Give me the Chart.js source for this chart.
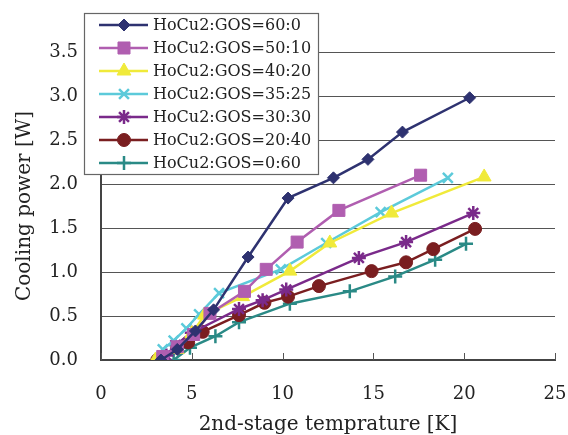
<!DOCTYPE html>
<html>
<head>
<meta charset="utf-8">
<script src="https://cdn.jsdelivr.net/npm/chart.js@4.4.1/dist/chart.umd.min.js"></script>
<style>
  html, body { margin:0; padding:0; background:#fff; }
  #wrap { width:568px; height:435px; }
</style>
</head>
<body>
<div id="wrap"><canvas id="c" width="568" height="435"></canvas></div>
<script>
// ── Data (temperature [K], cooling power [W]) ─────────────────────────────
const labels = ['HoCu2:GOS=60:0','HoCu2:GOS=50:10','HoCu2:GOS=40:20','HoCu2:GOS=35:25',
                'HoCu2:GOS=30:30','HoCu2:GOS=20:40','HoCu2:GOS=0:60'];

const t60_0  = [3.3, 4.2, 5.2, 6.2, 8.1, 10.3, 12.8, 14.7, 16.6, 20.3];
const p60_0  = [0.0, 0.12, 0.33, 0.57, 1.17, 1.84, 2.07, 2.28, 2.59, 2.98];
const t50_10 = [3.4, 4.2, 5.1, 6.0, 7.9, 9.1, 10.8, 13.1, 17.6];
const p50_10 = [0.04, 0.15, 0.29, 0.53, 0.78, 1.03, 1.34, 1.70, 2.10];
const t40_20 = [3.0, 4.2, 5.0, 5.7, 7.8, 10.4, 12.6, 16.0, 21.1];
const p40_20 = [0.0, 0.12, 0.30, 0.51, 0.72, 1.01, 1.33, 1.67, 2.08];
const t35_25 = [3.4, 4.0, 4.7, 5.4, 6.5, 9.9, 12.4, 15.4, 19.1];
const p35_25 = [0.12, 0.22, 0.36, 0.52, 0.76, 1.03, 1.33, 1.68, 2.07];
const t30_30 = [3.6, 4.1, 5.0, 7.6, 8.9, 10.2, 14.2, 16.8, 20.5];
const p30_30 = [0.05, 0.17, 0.31, 0.58, 0.68, 0.80, 1.16, 1.34, 1.67];
const t20_40 = [3.1, 4.2, 4.8, 5.6, 7.6, 9.0, 10.3, 12.0, 14.9, 16.8, 18.3, 20.6];
const p20_40 = [0.0, 0.14, 0.20, 0.32, 0.51, 0.65, 0.72, 0.84, 1.01, 1.11, 1.26, 1.49];
const t0_60  = [4.0, 4.9, 6.3, 7.6, 10.4, 13.7, 16.2, 18.4, 20.1];
const p0_60  = [0.0, 0.14, 0.27, 0.43, 0.64, 0.78, 0.95, 1.14, 1.32];

const xTicks = [0, 5, 10, 15, 20, 25];
const yTicks = [0, 0.5, 1.0, 1.5, 2.0, 2.5, 3.0, 3.5];

// ── Styles ────────────────────────────────────────────────────────────────
const FONT = "'DejaVu Serif', serif";
const series = [
  {t:t60_0,  p:p60_0,  color:'#2E3270', style:'rectRot',  r:6},
  {t:t50_10, p:p50_10, color:'#B05EB0', style:'rect',     r:8.5},
  {t:t40_20, p:p40_20, color:'#F0EA3A', style:'triangle', r:8},
  {t:t35_25, p:p35_25, color:'#5CCADA', style:'crossRot', r:7},
  {t:t30_30, p:p30_30, color:'#7A2A8A', style:'star',     r:7},
  {t:t20_40, p:p20_40, color:'#7A1E20', style:'circle',   r:6.5},
  {t:t0_60,  p:p0_60,  color:'#2A8A86', style:'cross',    r:7}
];

const datasets = series.map((s, i) => ({
  label: labels[i],
  data: s.t.map((x, k) => ({x, y: s.p[k]})),
  showLine: true,
  borderColor: s.color, backgroundColor: s.color,
  borderWidth: 2.5,
  pointStyle: s.style, pointRadius: s.r, pointHoverRadius: s.r,
  pointBorderColor: s.color, pointBackgroundColor: s.color,
  pointBorderWidth: (s.style==='crossRot'||s.style==='cross'||s.style==='star') ? 2.5 : 1,
  tension: 0
}));

// ── Legend box drawn inside the plot (line + marker samples) ──────────────
const boxLegend = {
  id: 'boxLegend',
  afterDraw(chart) {
    const ctx = chart.ctx;
    const L = 84, T = 13, W = 234, H = 161, row = 23;
    ctx.save();
    ctx.fillStyle = '#fff';
    ctx.fillRect(L, T, W, H);
    ctx.strokeStyle = '#666'; ctx.lineWidth = 1.2;
    ctx.strokeRect(L + 0.5, T + 0.5, W, H);
    ctx.font = '16px ' + FONT;
    ctx.textBaseline = 'middle';
    chart.data.datasets.forEach((ds, i) => {
      const y = 25 + i * row;
      ctx.strokeStyle = ds.borderColor; ctx.lineWidth = 2.5;
      ctx.beginPath(); ctx.moveTo(99, y); ctx.lineTo(148, y); ctx.stroke();
      ctx.fillStyle = ds.pointBackgroundColor;
      ctx.strokeStyle = ds.pointBorderColor; ctx.lineWidth = ds.pointBorderWidth;
      Chart.helpers.drawPoint(ctx, {pointStyle: ds.pointStyle, radius: ds.pointRadius, rotation: 0, borderWidth: ds.pointBorderWidth}, 124, y);
      ctx.fillStyle = '#222';
      ctx.fillText(ds.label, 153, y + 1);
    });
    ctx.restore();
  }
};

// ── Inward tick marks on the x axis ───────────────────────────────────────
const innerTicks = {
  id: 'innerTicks',
  afterDatasetsDraw(chart) {
    const {ctx, chartArea:a, scales:{x}} = chart;
    ctx.save();
    ctx.strokeStyle = '#555'; ctx.lineWidth = 1;
    xTicks.forEach(v => {
      const px = Math.round(x.getPixelForValue(v)) + 0.5;
      ctx.beginPath(); ctx.moveTo(px, a.bottom); ctx.lineTo(px, a.bottom - 7); ctx.stroke();
    });
    ctx.restore();
  }
};

new Chart(document.getElementById('c'), {
  type: 'scatter',
  data: { datasets },
  options: {
    responsive: false, animation: false,
    layout: { padding: { top: 52, right: 13, left: 0, bottom: 0 } },
    plugins: { legend: { display: false }, tooltip: { enabled: false } },
    scales: {
      x: {
        type: 'linear', min: 0, max: 25,
        afterBuildTicks: s => { s.ticks = xTicks.map(v => ({value: v})); },
        afterFit: s => { s.height = 75; s.paddingLeft = 0; s.paddingRight = 0; },
        grid: { display: true, drawOnChartArea: false, drawTicks: false },
        border: { color: '#444', width: 2 },
        ticks: { color: '#222', font: { family: FONT, size: 18 }, padding: 24, maxRotation: 0 },
        title: { display: true, text: '2nd-stage temprature [K]', color: '#222',
                 font: { family: FONT, size: 20 }, padding: { top: 0, bottom: -2 } }
      },
      y: {
        type: 'linear', min: 0, max: 3.5,
        afterBuildTicks: s => { s.ticks = yTicks.map(v => ({value: v})); },
        afterFit: s => { s.width = 101; s.paddingTop = 0; s.paddingBottom = 0; },
        grid: { color: '#555', lineWidth: 1, drawTicks: false },
        border: { color: '#444', width: 2 },
        ticks: { color: '#222', font: { family: FONT, size: 18 }, padding: 23,
                 callback: v => Number(v).toFixed(1) },
        title: { display: true, text: 'Cooling power [W]', color: '#222',
                 font: { family: FONT, size: 20 }, padding: { top: 13, bottom: 0 } }
      }
    }
  },
  plugins: [innerTicks, boxLegend]
});
</script>
</body>
</html>
